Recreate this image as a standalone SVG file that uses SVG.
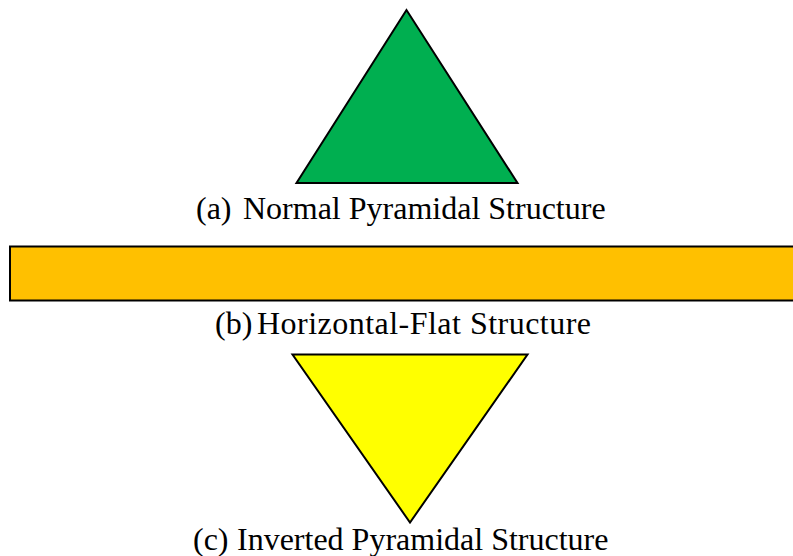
<svg xmlns="http://www.w3.org/2000/svg" width="793" height="556" viewBox="0 0 793 556">
<style>
.shape{stroke:#000;stroke-width:2;stroke-linejoin:miter}
.lbl{font-family:"Liberation Serif","Times New Roman",serif;font-size:32px;fill:#000}
</style>
<rect width="793" height="556" fill="#fff"/>
<g id="normal">
<polygon class="shape" points="406.5,10 296.5,183 517.5,183" fill="#00AF50"/>
<text class="lbl" y="219"><tspan x="196">(a)</tspan><tspan x="243">Normal Pyramidal Structure</tspan></text>
</g>
<g id="flat">
<rect class="shape" x="10" y="246.5" width="800" height="54" fill="#FFC000"/>
<text class="lbl" y="334"><tspan x="215">(b)</tspan><tspan x="257" textLength="334" lengthAdjust="spacing">Horizontal-Flat Structure</tspan></text>
</g>
<g id="inverted">
<polygon class="shape" points="292.5,354.5 527.5,354.5 410,522.5" fill="#FFFF00"/>
<text class="lbl" y="550"><tspan x="193">(c)</tspan><tspan x="237">Inverted Pyramidal Structure</tspan></text>
</g>
<g id="connectors"/>
</svg>
